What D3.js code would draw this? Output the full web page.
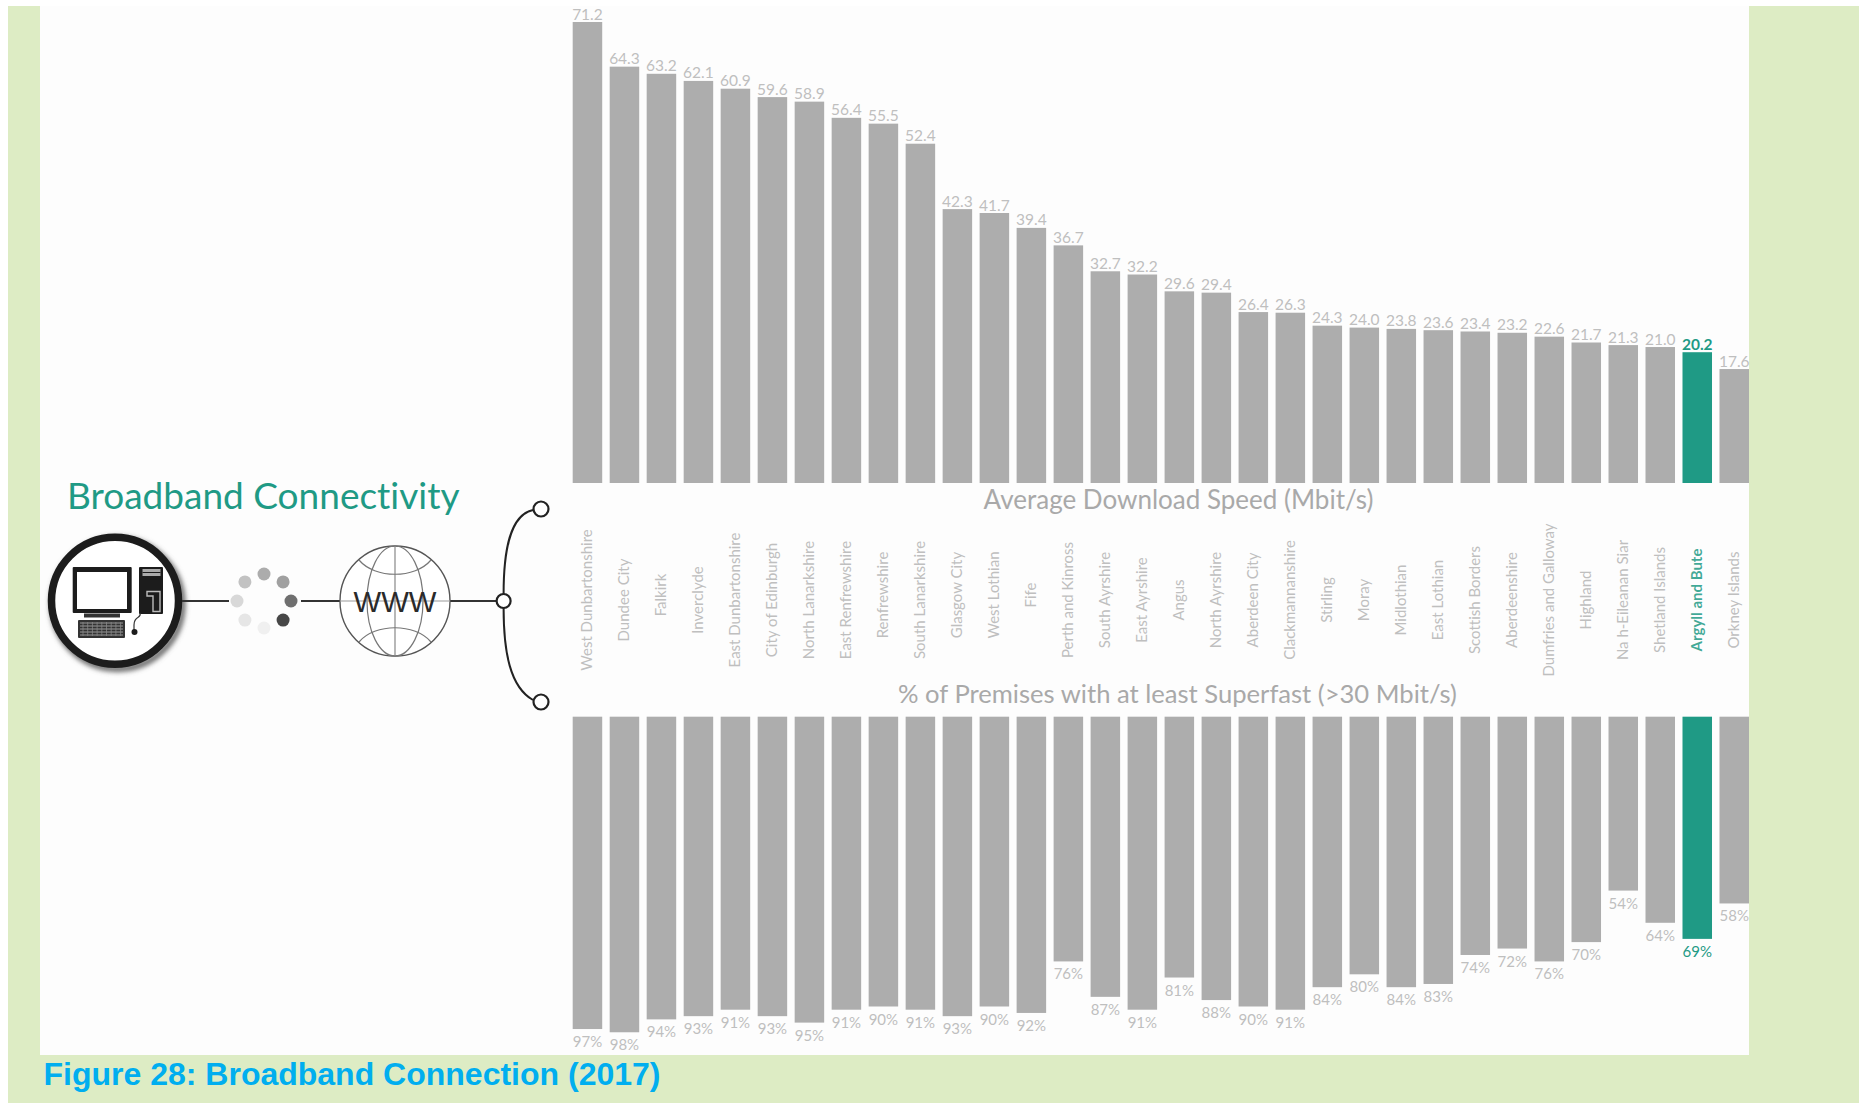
<!DOCTYPE html>
<html lang="en">
<head>
<meta charset="utf-8">
<title>Broadband Connection (2017)</title>
<script src="https://cdn.jsdelivr.net/npm/d3@7"></script>
<style>
  html, body { margin: 0; padding: 0; background: #fff; overflow: hidden; }
  svg { display: block; }
  text { font-family: Lato, "Open Sans", sans-serif; font-variant-ligatures: none; }
  .tick line, .domain { display: none; }
</style>
</head>
<body>
<svg id="chart" width="1859" height="1103"></svg>
<script>
// Council areas, ordered by average download speed
const areas = ["West Dunbartonshire","Dundee City","Falkirk","Inverclyde","East Dunbartonshire","City of Edinburgh","North Lanarkshire","East Renfrewshire","Renfrewshire","South Lanarkshire","Glasgow City","West Lothian","Fife","Perth and Kinross","South Ayrshire","East Ayrshire","Angus","North Ayrshire","Aberdeen City","Clackmannanshire","Stirling","Moray","Midlothian","East Lothian","Scottish Borders","Aberdeenshire","Dumfries and Galloway","Highland","Na h-Eileanan Siar","Shetland Islands","Argyll and Bute","Orkney Islands"];
// Average download speed, Mbit/s
const speeds = [71.2,64.3,63.2,62.1,60.9,59.6,58.9,56.4,55.5,52.4,42.3,41.7,39.4,36.7,32.7,32.2,29.6,29.4,26.4,26.3,24.3,24.0,23.8,23.6,23.4,23.2,22.6,21.7,21.3,21.0,20.2,17.6];
// Share of premises with at least superfast access, %
const superfast = [97,98,94,93,91,93,95,91,90,91,93,90,92,76,87,91,81,88,90,91,84,80,84,83,74,72,76,70,54,64,69,58];
const highlighted = "Argyll and Bute";
// Short names set slightly higher in the label column
const raisedLabels = ["Falkirk","Renfrewshire","Glasgow City","West Lothian","Fife"];

const GREY = "#adadad", TEAL = "#1f9a85", LABEL = "#bfbfbf", TITLE = "#a9a9a9", INK = "#1c1c1c";
const svg = d3.select("#chart");

// Page backdrop and the white figure panel
svg.append("rect").attr("x", 8).attr("y", 6).attr("width", 1851).attr("height", 1097).attr("fill", "#ddecc4");
svg.append("rect").attr("x", 40).attr("y", 6).attr("width", 1709).attr("height", 1049).attr("fill", "#fdfdfd");

const defs = svg.append("defs");
defs.append("filter").attr("id", "soft").attr("x", "-20%").attr("y", "-20%").attr("width", "140%").attr("height", "140%")
  .append("feGaussianBlur").attr("stdDeviation", 2.5);

// Shared horizontal scale
const x = d3.scaleBand().domain(areas).range([572.7, 1749]).paddingInner(0.2023).paddingOuter(0).align(0);

// Upper panel: bars rise from a common baseline
const ySpeed = d3.scaleLinear().domain([0, 71.2]).range([483, 22]);
// Lower panel: bars hang from a common top edge
const yShare = d3.scaleLinear().domain([0, 100]).range([716.7, 1038.7]);

const color = a => a === highlighted ? TEAL : GREY;
const textColor = a => a === highlighted ? TEAL : LABEL;

const upper = svg.append("g").selectAll("g").data(areas.map((a, i) => ({ a, v: speeds[i] }))).join("g");
upper.append("rect")
  .attr("x", d => x(d.a)).attr("width", x.bandwidth())
  .attr("y", d => ySpeed(d.v)).attr("height", d => ySpeed(0) - ySpeed(d.v))
  .attr("fill", d => color(d.a));
upper.append("text")
  .attr("x", d => x(d.a) + x.bandwidth() / 2).attr("y", d => ySpeed(d.v) - 2.5)
  .attr("text-anchor", "middle").attr("font-size", 15.5)
  .attr("font-weight", d => d.a === highlighted ? 700 : 400)
  .attr("fill", d => textColor(d.a))
  .text(d => d.v.toFixed(1));

const lower = svg.append("g").selectAll("g").data(areas.map((a, i) => ({ a, v: superfast[i] }))).join("g");
lower.append("rect")
  .attr("x", d => x(d.a)).attr("width", x.bandwidth())
  .attr("y", yShare(0)).attr("height", d => yShare(d.v) - yShare(0))
  .attr("fill", d => color(d.a));
lower.append("text")
  .attr("x", d => x(d.a) + x.bandwidth() / 2).attr("y", d => yShare(d.v) + 18)
  .attr("text-anchor", "middle").attr("font-size", 15)
  .attr("fill", d => textColor(d.a))
  .text(d => d.v + "%");

// Area names run up the gap between the two panels
const nameAxis = svg.append("g").attr("transform", "translate(0,600)")
  .call(d3.axisBottom(x).tickSize(0).tickPadding(0));
nameAxis.selectAll("text")
  .attr("font-size", 15)
  .attr("font-weight", d => d === highlighted ? 700 : 400)
  .attr("fill", d => textColor(d))
  .attr("fill-opacity", d => d === highlighted ? 0.85 : 1)
  .attr("text-anchor", "middle")
  .attr("dy", null)
  .attr("y", null)
  .attr("dominant-baseline", "central")
  .attr("transform", d => `translate(-1.5,${raisedLabels.includes(d) ? -5 : 0}) rotate(-90)`);

// Panel titles
svg.append("text").attr("x", 1178.5).attr("y", 509).attr("text-anchor", "middle")
  .attr("font-size", 26).attr("fill", TITLE).text("Average Download Speed (Mbit/s)");
svg.append("text").attr("x", 1177.5).attr("y", 703).attr("text-anchor", "middle")
  .attr("font-size", 25.6).attr("fill", TITLE).text("% of Premises with at least Superfast (>30 Mbit/s)");

// Heading and caption
svg.append("text").attr("x", 67).attr("y", 509).attr("font-size", 37).attr("fill", TEAL)
  .text("Broadband Connectivity");
svg.append("text").attr("x", 43.5).attr("y", 1085).attr("font-size", 32)
  .attr("font-weight", 700).attr("fill", "#00aeef")
  .style("font-family", "'Liberation Sans', Arial, sans-serif")
  .text("Figure 28: Broadband Connection (2017)");

// Computer badge
const pc = svg.append("g");
pc.append("circle").attr("cx", 117.5).attr("cy", 604).attr("r", 65).attr("fill", "none")
  .attr("stroke", "#666").attr("stroke-width", 6).attr("filter", "url(#soft)");
pc.append("circle").attr("cx", 115).attr("cy", 600.7).attr("r", 63.5).attr("fill", "#fff")
  .attr("stroke", INK).attr("stroke-width", 7.5);
pc.append("rect").attr("x", 72.7).attr("y", 567).attr("width", 59).attr("height", 46).attr("rx", 1).attr("fill", INK);
pc.append("rect").attr("x", 77).attr("y", 572).attr("width", 50).attr("height", 37).attr("fill", "#fff");
pc.append("rect").attr("x", 84).attr("y", 613.5).attr("width", 36).attr("height", 4).attr("fill", "#333");
pc.append("rect").attr("x", 78).attr("y", 620).attr("width", 47).attr("height", 18).attr("rx", 1).attr("fill", "#333");
d3.range(5).forEach(i => pc.append("line")
  .attr("x1", 80).attr("x2", 123).attr("y1", 623 + i * 3).attr("y2", 623 + i * 3)
  .attr("stroke", "#999").attr("stroke-width", 1));
d3.range(9).forEach(i => pc.append("line")
  .attr("x1", 83 + i * 4.7).attr("x2", 83 + i * 4.7).attr("y1", 622).attr("y2", 636)
  .attr("stroke", "#888").attr("stroke-width", 0.8));
pc.append("rect").attr("x", 139).attr("y", 567).attr("width", 24).attr("height", 47).attr("rx", 1).attr("fill", INK);
pc.append("rect").attr("x", 142.5).attr("y", 569).attr("width", 18).attr("height", 7).attr("fill", "#aaa");
pc.append("line").attr("x1", 142.5).attr("x2", 160.5).attr("y1", 572.5).attr("y2", 572.5).attr("stroke", INK).attr("stroke-width", 1);
pc.append("path").attr("d", "M147 591.5H160V611.5H153V596H147Z").attr("fill", "none").attr("stroke", "#bbb").attr("stroke-width", 1.4);
pc.append("path").attr("d", "M140 613C142 619 134 615 134 625V630").attr("fill", "none").attr("stroke", "#333").attr("stroke-width", 1.2);
pc.append("circle").attr("cx", 134.5).attr("cy", 632).attr("r", 3).attr("fill", INK);

// Connector lines
const wire = [[182, 229], [301, 340], [450, 496]];
svg.append("g").selectAll("line").data(wire).join("line")
  .attr("x1", d => d[0]).attr("x2", d => d[1]).attr("y1", 601).attr("y2", 601)
  .attr("stroke", "#333").attr("stroke-width", 2);

// Loading spinner, dots stepping from pale to dark
const dotShades = ["#acacac","#a0a0a0","#6f6f6f","#474747","#f0f0f0","#e6e6e6","#d8d8d8","#c2c2c2"];
svg.append("g").selectAll("circle").data(dotShades).join("circle")
  .attr("cx", (d, i) => 264 + 27 * Math.sin(i * Math.PI / 4))
  .attr("cy", (d, i) => 601 - 27 * Math.cos(i * Math.PI / 4))
  .attr("r", 6.5).attr("fill", d => d);

// Globe
const globe = svg.append("g").attr("transform", "translate(395,601)").attr("fill", "none");
globe.append("circle").attr("r", 55).attr("stroke", "#555").attr("stroke-width", 1.4).attr("fill", "#fff");
globe.append("ellipse").attr("rx", 28).attr("ry", 55).attr("stroke", "#777").attr("stroke-width", 1.2);
globe.append("line").attr("y1", -55).attr("y2", 55).attr("stroke", "#888").attr("stroke-width", 1.2);
globe.append("line").attr("x1", -55).attr("x2", 55).attr("stroke", "#999").attr("stroke-width", 1.2);
globe.append("path").attr("d", "M-36 -41C-20 -22 20 -22 36 -41").attr("stroke", "#777").attr("stroke-width", 1.2);
globe.append("path").attr("d", "M-36 41C-20 22 20 22 36 41").attr("stroke", "#777").attr("stroke-width", 1.2);
svg.append("text").attr("x", 395).attr("y", 612).attr("text-anchor", "middle")
  .style("font-family", "'Liberation Sans', Arial, sans-serif")
  .attr("font-size", 30).attr("fill", "#2a2a2a")
  .attr("textLength", 83).attr("lengthAdjust", "spacingAndGlyphs").text("WWW");

// Branch that links the two panels
svg.append("path")
  .attr("d", "M503.6 594C503.6 550 510 515 533 510M503.6 608C503.6 652 510 687 533 700")
  .attr("fill", "none").attr("stroke", "#222").attr("stroke-width", 2);
svg.append("g").selectAll("circle").data([[503.6, 601, 7], [541, 509, 7.5], [541, 702, 7.5]]).join("circle")
  .attr("cx", d => d[0]).attr("cy", d => d[1]).attr("r", d => d[2])
  .attr("fill", "#fff").attr("stroke", "#222").attr("stroke-width", 2.2);
</script>
</body>
</html>
